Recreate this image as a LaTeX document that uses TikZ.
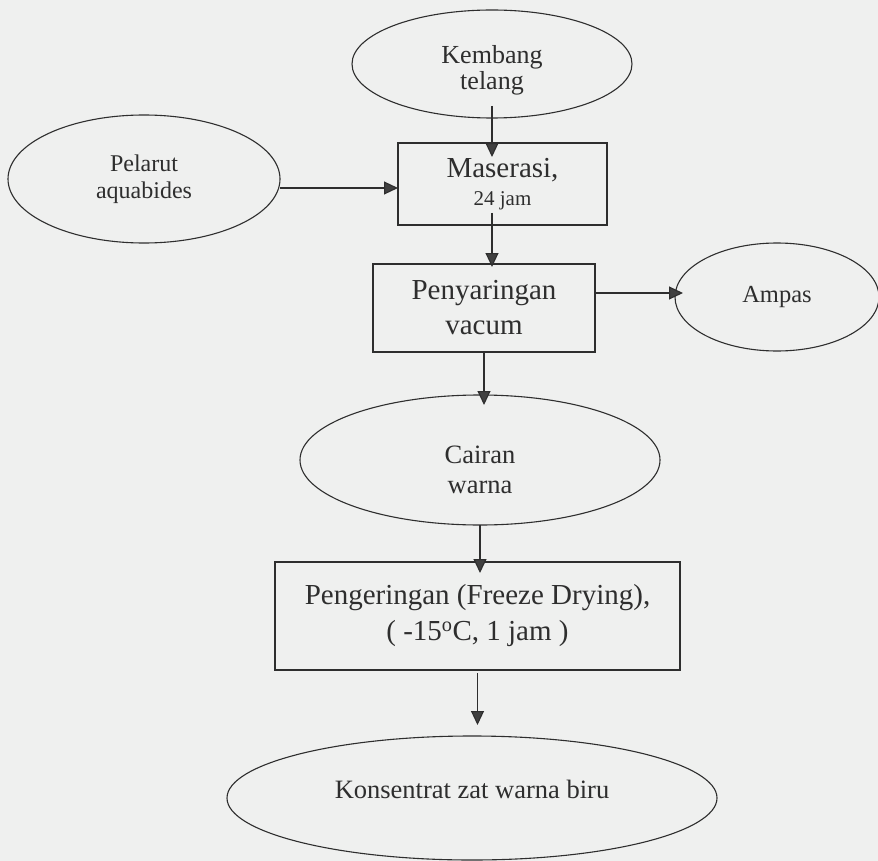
\documentclass[tikz,border=0pt]{standalone}
\usepackage{fontspec}
\setmainfont{Liberation Serif}
\usetikzlibrary{shapes.geometric,arrows.meta}
\definecolor{paper}{HTML}{EFF0EF}
\definecolor{ink}{HTML}{2E2E2E}
\definecolor{tipc}{HTML}{404040}
\begin{document}
\begin{tikzpicture}[x=1pt,y=-1pt,
  every node/.style={inner sep=0pt,outer sep=0pt,text=ink,align=center},
  every label/.style={inner sep=0pt,outer sep=0pt,text=ink,align=center},
  oval/.style={ellipse,draw=ink,line width=1.1pt},
  procbox/.style={rectangle,draw=ink,line width=1.1pt},
  arr/.style={draw=ink,line width=1.1pt,-{Triangle[length=14pt,width=13pt,fill=tipc]}}
]
\fill[paper] (0,0) rectangle (878,861);
\useasboundingbox (0,0) rectangle (878,861);

\node[oval,minimum width=280pt,minimum height=108pt,
  label={[font=\fontsize{26}{26}\selectfont,yshift=-6pt]center:{Kembang\\telang}}] (kem) at (492,64) {};
\node[oval,minimum width=272pt,minimum height=128pt,font=\fontsize{24}{27}\selectfont] (pel) at (144,179)
  {Pelarut\\aquabides};
\node[procbox,minimum width=209pt,minimum height=82pt,font=\fontsize{29}{28}\selectfont] (mas) at (502.5,184)
  {Maserasi,\\\fontsize{21}{28}\selectfont 24 jam};
\node[procbox,minimum width=222pt,minimum height=88pt,font=\fontsize{29}{35}\selectfont] (pen) at (484,308)
  {Penyaringan\\vacum};
\node[oval,minimum width=204pt,minimum height=108pt,font=\fontsize{24.5}{27}\selectfont] (amp) at (777,297)
  {Ampas};
\node[oval,minimum width=360pt,minimum height=130pt,
  label={[font=\fontsize{26.5}{30}\selectfont,yshift=-10pt]center:{Cairan\\warna}}] (cai) at (480,460) {};
\node[procbox,minimum width=405pt,minimum height=108pt,font=\fontsize{29}{36}\selectfont] (peng) at (477.5,616)
  {Pengeringan (Freeze Drying),\\( -15\textsuperscript{o}C, 1 jam )};
\node[oval,minimum width=490pt,minimum height=124pt,
  label={[font=\fontsize{26.5}{30}\selectfont,yshift=9pt]center:{Konsentrat zat warna biru}}] (kon) at (472,798) {};

\draw[arr,shorten <=-12pt,shorten >=-14pt] (kem.south) -- (kem.south |- mas.north);
\draw[arr] ([yshift=-9pt]pel.east) -- ([yshift=-9pt]pel.east -| mas.west);
\draw[arr,shorten <=-12pt,shorten >=-3pt] (mas.south -| kem.south) -- (pen.north -| kem.south);
\draw[arr,shorten >=-8pt] ([yshift=15pt]pen.east) -- ([yshift=15pt]pen.east -| amp.west);
\draw[arr,shorten >=-10pt] (pen.south) -- (pen.south |- cai.north);
\draw[arr,shorten >=-11pt] (cai.south) -- (cai.south |- peng.north);
\draw[arr,shorten <=3pt,shorten >=11pt] (peng.south) -- (peng.south |- kon.north);
\end{tikzpicture}
\end{document}
